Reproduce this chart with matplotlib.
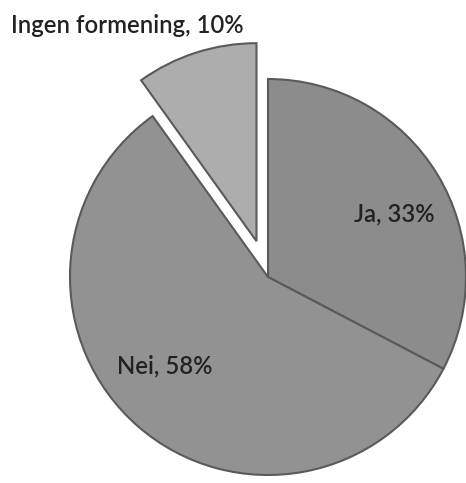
import matplotlib
matplotlib.use('Agg')
import matplotlib.pyplot as plt

# Survey answers (percent)
labels = ['Ja', 'Nei', 'Ingen formening']
values = [33, 58, 10]
colors = ['#8c8c8c', '#929292', '#adadad']
explode = [0, 0, 0.19]

# label positions in pie units (centre = 0,0, radius = 1)
label_pos = [(0.64, 0.32), (-0.52, -0.45), (-0.71, 1.27)]

plt.rcParams['font.family'] = ['Lato', 'DejaVu Sans']

fig = plt.figure(figsize=(4.66, 4.83), dpi=100)
ax = fig.add_axes([0, 0, 1, 1])
wedges, _ = ax.pie(values, colors=colors, explode=explode, startangle=90,
                   counterclock=False, radius=1.0,
                   wedgeprops=dict(edgecolor='#5a5a5a', linewidth=1.5))

for lab, val, (x, y) in zip(labels, values, label_pos):
    ax.text(x, y, f'{lab}, {val}%', ha='center', va='center',
            fontsize=17.2, fontweight='semibold', color='#222222')

ax.set_aspect('auto')
ax.set_xlim(-268 / 198, (466 - 268) / 198)
ax.set_ylim(-(483 - 277) / 198, 277 / 198)
ax.axis('off')

fig.savefig('out.png', dpi=100, facecolor='white')
